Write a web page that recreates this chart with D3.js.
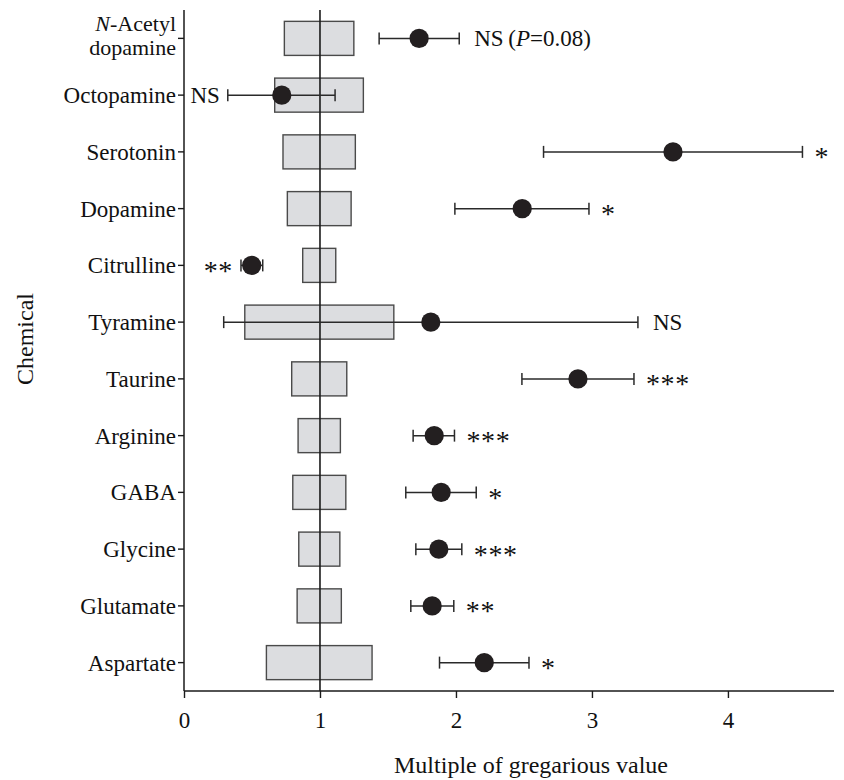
<!DOCTYPE html>
<html>
<head>
<meta charset="utf-8">
<script src="https://cdn.jsdelivr.net/npm/d3@7"></script>
<style>
  html, body { margin: 0; padding: 0; background: #fff; }
  svg { display: block; }
  text { font-family: "Liberation Serif", "Times New Roman", serif; fill: #111; }
</style>
</head>
<body>
<svg id="chart" width="844" height="780"></svg>
<script>
// ---- Data ----
const categories = ["N-Acetyl dopamine", "Octopamine", "Serotonin", "Dopamine", "Citrulline",
  "Tyramine", "Taurine", "Arginine", "GABA", "Glycine", "Glutamate", "Aspartate"];
// gregarious range box (low / high)
const boxLow  = [0.738, 0.667, 0.728, 0.760, 0.873, 0.447, 0.792, 0.839, 0.800, 0.844, 0.832, 0.606];
const boxHigh = [1.249, 1.319, 1.260, 1.229, 1.116, 1.543, 1.197, 1.150, 1.190, 1.146, 1.157, 1.383];
// solitarious mean and error bar
const meanValue = [1.729, 0.719, 3.596, 2.487, 0.498, 1.815, 2.897, 1.840, 1.891, 1.874, 1.825, 2.208];
const errLow    = [1.435, 0.322, 2.644, 1.992, 0.419, 0.292, 2.485, 1.685, 1.631, 1.705, 1.668, 1.879];
const errHigh   = [2.024, 1.111, 4.548, 2.978, 0.579, 3.338, 3.309, 1.989, 2.149, 2.043, 1.984, 2.537];
// significance labels and the side of the error bar they sit on
const sigLabel = ["NS (P=0.08)", "NS", "*", "*", "**", "NS", "***", "***", "*", "***", "**", "*"];
const sigSide  = ["right", "left", "right", "right", "left", "right", "right", "right", "right", "right", "right", "right"];
const xTicks = [0, 1, 2, 3, 4];
const xDomain = [0, 4.78];
const xTitle = "Multiple of gregarious value";
const yTitle = "Chemical";

(function () {
// ---- Layout ----
const svg = d3.select("#chart");
const mLeft = 184, mRight = 834, mTop = 10, mBottom = 691;
const fs = 23;

const x = d3.scaleLinear().domain(xDomain).range([mLeft, mRight]);
const y = d3.scaleBand().domain(categories).range([mTop, mBottom]).padding(0);
const yc = c => y(c) + y.bandwidth() / 2;
const boxH = y.bandwidth() * 0.6;

const rows = categories.map((c, i) => ({
  c, bl: boxLow[i], bh: boxHigh[i], m: meanValue[i], el: errLow[i], eh: errHigh[i],
  sig: sigLabel[i], side: sigSide[i]
}));

// boxes
svg.append("g").selectAll("rect").data(rows).join("rect")
  .attr("x", d => x(d.bl))
  .attr("width", d => x(d.bh) - x(d.bl))
  .attr("y", d => yc(d.c) - boxH / 2)
  .attr("height", boxH)
  .attr("fill", "#dcdde0")
  .attr("stroke", "#4a4a4a")
  .attr("stroke-width", 1.4);

// reference line at 1
svg.append("line")
  .attr("x1", x(1)).attr("x2", x(1))
  .attr("y1", mTop).attr("y2", mBottom)
  .attr("stroke", "#1a1a1a").attr("stroke-width", 1.6);

// error bars
const eb = svg.append("g").attr("stroke", "#2a2a2a").attr("stroke-width", 1.5);
eb.selectAll("line.h").data(rows).join("line").attr("class", "h")
  .attr("x1", d => x(d.el)).attr("x2", d => x(d.eh))
  .attr("y1", d => yc(d.c)).attr("y2", d => yc(d.c));
eb.selectAll("line.cl").data(rows).join("line").attr("class", "cl")
  .attr("x1", d => x(d.el)).attr("x2", d => x(d.el))
  .attr("y1", d => yc(d.c) - 6).attr("y2", d => yc(d.c) + 6);
eb.selectAll("line.ch").data(rows).join("line").attr("class", "ch")
  .attr("x1", d => x(d.eh)).attr("x2", d => x(d.eh))
  .attr("y1", d => yc(d.c) - 6).attr("y2", d => yc(d.c) + 6);

// mean dots
svg.append("g").selectAll("circle").data(rows).join("circle")
  .attr("cx", d => x(d.m)).attr("cy", d => yc(d.c))
  .attr("r", 9.6).attr("fill", "#231f20");

// significance labels
const sg = svg.append("g");
rows.forEach(d => {
  const isStar = d.sig.startsWith("*");
  const t = sg.append("text")
    .style("font-size", (isStar ? 28 : fs) + "px")
    .attr("text-anchor", d.side === "right" ? "start" : "end")
    .attr("x", d.side === "right" ? x(d.eh) + (isStar ? 12 : 15) : x(d.el) - 8)
    .attr("y", yc(d.c) + (isStar ? 14.5 : 8));
  if (isStar) t.attr("letter-spacing", "0.6px");
  const m = d.sig.match(/^NS \(P=(.*)\)$/);
  if (m) {
    t.append("tspan").text("NS\u2009(");
    t.append("tspan").attr("font-style", "italic").text("P");
    t.append("tspan").text("=" + m[1] + ")");
  } else {
    t.text(d.sig);
  }
});

// y axis
const yAxisG = svg.append("g");
yAxisG.append("line").attr("x1", mLeft).attr("x2", mLeft).attr("y1", mTop).attr("y2", mBottom)
  .attr("stroke", "#1a1a1a").attr("stroke-width", 1.5);
yAxisG.selectAll("line.t").data(categories).join("line").attr("class", "t")
  .attr("x1", mLeft - 6).attr("x2", mLeft).attr("y1", d => yc(d)).attr("y2", d => yc(d))
  .attr("stroke", "#1a1a1a").attr("stroke-width", 1.4);
categories.forEach(c => {
  const parts = c.startsWith("N-") ? c.split(" ") : [c];
  if (parts.length === 1) {
    yAxisG.append("text").style("font-size", fs + "px").attr("text-anchor", "end")
      .attr("x", mLeft - 8).attr("y", yc(c) + 8).text(c);
  } else {
    const t1 = yAxisG.append("text").style("font-size", "22px").attr("text-anchor", "end")
      .attr("x", mLeft - 8).attr("y", yc(c) - 7.5);
    t1.append("tspan").attr("font-style", "italic").text(parts[0].slice(0, 1));
    t1.append("tspan").text(parts[0].slice(1));
    yAxisG.append("text").style("font-size", "22px").attr("text-anchor", "end")
      .attr("x", mLeft - 8).attr("y", yc(c) + 17).text(parts[1]);
  }
});

// x axis
const xAxis = d3.axisBottom(x).tickValues(xTicks).tickSize(7).tickPadding(10).tickFormat(d3.format("d"));
const xg = svg.append("g").attr("transform", `translate(0,${mBottom})`).call(xAxis);
xg.select(".domain").attr("stroke", "#1a1a1a").attr("stroke-width", 1.5).attr("d", `M${mLeft},0H${mRight}`);
xg.selectAll(".tick line").attr("stroke", "#1a1a1a").attr("stroke-width", 1.4);
xg.selectAll(".tick text").style("font-size", fs + "px").attr("fill", "#111")
  .attr("font-family", null).attr("dy", null).attr("y", 37);

// axis titles
svg.append("text").style("font-size", "24px").attr("text-anchor", "middle")
  .attr("x", 531).attr("y", 773).text(xTitle);
svg.append("text").style("font-size", "24px").attr("text-anchor", "middle")
  .attr("transform", "translate(33,339) rotate(-90)").text(yTitle);
})();
</script>
</body>
</html>
